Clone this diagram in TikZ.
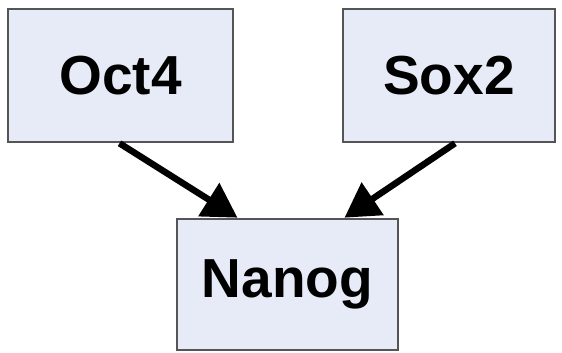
\documentclass[tikz,border=0pt]{standalone}
\usepackage{fontspec}
\setmainfont{Liberation Sans}
\usetikzlibrary{arrows.meta}
\definecolor{boxfill}{RGB}{231,235,248}
\definecolor{boxline}{RGB}{85,85,85}
\tikzset{
  gene/.style={draw=boxline, fill=boxfill, line width=2.6pt, inner sep=0pt,
    font=\fontsize{55}{60}\selectfont\bfseries},
  link/.style={line width=6.5pt, -{Triangle[length=34pt,width=38pt]}}
}
\begin{document}
\begin{tikzpicture}[x=1pt,y=-1pt]
  \useasboundingbox (0,0) rectangle (562,353);
  \node[gene, minimum width=225pt, minimum height=133pt] (oct) at (120.5,75.5) {Oct4};
  \node[gene, minimum width=212pt, minimum height=133pt] (sox) at (449,75.5) {Sox2};
  \node[gene, minimum width=221pt, minimum height=131pt] (nanog) at (287.5,284.5) {Nanog};
  \draw[link] ([xshift=-1pt]oct.south) -- ([xshift=-50pt]nanog.north);
  \draw[link] ([xshift=6pt]sox.south) -- ([xshift=57pt]nanog.north);
\end{tikzpicture}
\end{document}
